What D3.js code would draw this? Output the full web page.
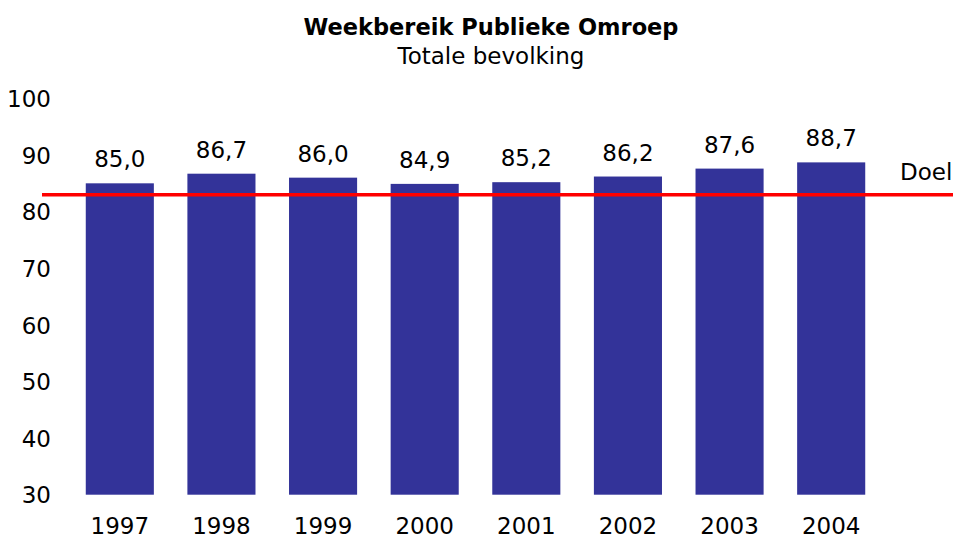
<!DOCTYPE html>
<html lang="nl">
<head>
    <meta charset="UTF-8">
    <title>Weekbereik Publieke Omroep</title>
    <script src="https://d3js.org/d3.v7.min.js"></script>
    <style>
        body { margin: 0; background: #fff; }
        svg { display: block; font-family: 'DejaVu Sans', Verdana, sans-serif; }
        .axis text { font-size: 23px; fill: #000; font-family: 'DejaVu Sans', Verdana, sans-serif; }
        .axis path, .axis line { display: none; }
    </style>
</head>
<body>
    <div id="chart"></div>
    <script>
        const years = ["1997", "1998", "1999", "2000", "2001", "2002", "2003", "2004"];
        const reach = [85.0, 86.7, 86.0, 84.9, 85.2, 86.2, 87.6, 88.7];
        const yTicks = [30, 40, 50, 60, 70, 80, 90, 100];
        const target = 83;

        const width = 953, height = 538;
        const svg = d3.select("#chart").append("svg")
            .attr("width", width)
            .attr("height", height);

        const x = d3.scaleBand()
            .domain(years)
            .range([69, 882])
            .paddingInner(0.33)
            .paddingOuter(0.165);

        const y = d3.scaleLinear()
            .domain([30, 100])
            .range([494.7, 98.4]);

        // title
        svg.append("text")
            .attr("x", 491).attr("y", 35)
            .attr("text-anchor", "middle")
            .style("font-size", "22.5px")
            .style("font-weight", "bold")
            .text("Weekbereik Publieke Omroep");
        svg.append("text")
            .attr("x", 491).attr("y", 64)
            .attr("text-anchor", "middle")
            .style("font-size", "23px")
            .text("Totale bevolking");

        // y axis labels
        svg.append("g")
            .attr("class", "axis")
            .attr("transform", "translate(58,0)")
            .call(d3.axisLeft(y).tickValues(yTicks).tickSize(0).tickPadding(7))
            .selectAll("text")
            .attr("dy", "0.36em");

        // x axis labels
        svg.append("g")
            .attr("class", "axis")
            .attr("transform", "translate(0,534)")
            .call(d3.axisBottom(x).tickSize(0).tickPadding(0))
            .selectAll("text")
            .attr("dy", "0");

        const data = years.map((yr, i) => ({ year: yr, value: reach[i] }));

        // bars
        svg.selectAll(".bar")
            .data(data)
            .enter().append("rect")
            .attr("class", "bar")
            .attr("x", d => x(d.year))
            .attr("width", x.bandwidth())
            .attr("y", d => y(d.value))
            .attr("height", d => y(30) - y(d.value))
            .attr("fill", "#333399");

        // value labels
        svg.selectAll(".val")
            .data(data)
            .enter().append("text")
            .attr("class", "val")
            .attr("x", d => x(d.year) + x.bandwidth() / 2)
            .attr("y", d => y(d.value) - 16)
            .attr("text-anchor", "middle")
            .style("font-size", "23px")
            .text(d => d3.format(".1f")(d.value).replace(".", ","));

        // target line
        svg.append("line")
            .attr("x1", 42).attr("x2", width)
            .attr("y1", y(target)).attr("y2", y(target))
            .attr("stroke", "#ff0000")
            .attr("stroke-width", 3.5);

        svg.append("text")
            .attr("x", 900).attr("y", 180)
            .style("font-size", "23px")
            .text("Doel");
    </script>
</body>
</html>
